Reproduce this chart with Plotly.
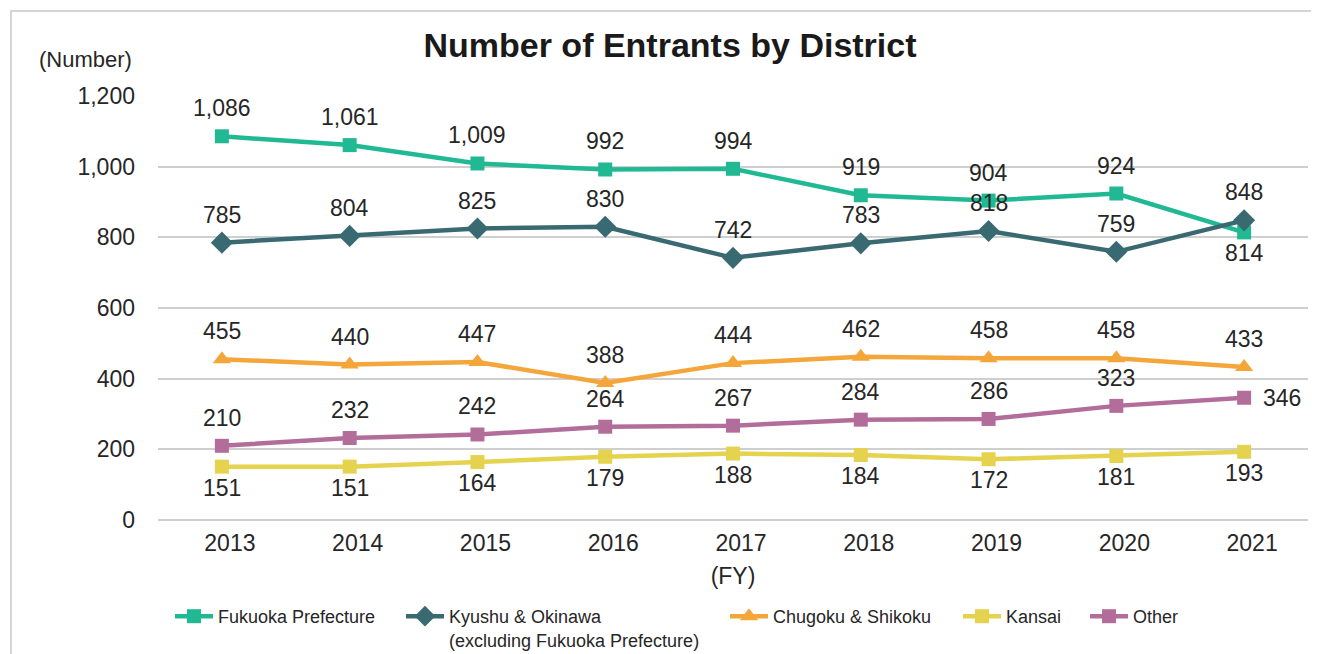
import plotly.graph_objects as go

years = ["2013", "2014", "2015", "2016", "2017", "2018", "2019", "2020", "2021"]

fukuoka = [1086, 1061, 1009, 992, 994, 919, 904, 924, 814]
kyushu = [785, 804, 825, 830, 742, 783, 818, 759, 848]
chugoku = [455, 440, 447, 388, 444, 462, 458, 458, 433]
kansai = [151, 151, 164, 179, 188, 184, 172, 181, 193]
other = [210, 232, 242, 264, 267, 284, 286, 323, 346]

FONT = "Liberation Sans, Arial, sans-serif"
TXT = "#262626"
W, H = 1311, 646  # page adds an 8px body margin

series = [
    ("Fukuoka Prefecture", fukuoka, "#20B994", "square", 14,
     ["up"] * 8 + ["down"], "legend"),
    ("Kyushu & Okinawa<br>(excluding Fukuoka Prefecture)", kyushu, "#3A6A71", "diamond", 17,
     ["up"] * 9, "legend2"),
    ("Chugoku & Shikoku", chugoku, "#F5A63B", "triangle-up", 16,
     ["up"] * 9, "legend3"),
    ("Kansai", kansai, "#E5D24F", "square", 14,
     ["down"] * 9, "legend4"),
    ("Other", other, "#B36D9B", "square", 14,
     ["up"] * 8 + ["right"], "legend5"),
]

fig = go.Figure()
annotations = []
for name, vals, color, sym, size, pos, leg in series:
    fig.add_scatter(
        x=years, y=vals, name=name, mode="lines+markers",
        line=dict(color=color, width=4.5),
        marker=dict(symbol=sym, size=size, color=color),
        legend=leg,
    )
    for i, (v, p) in enumerate(zip(vals, pos)):
        shift = {"up": (0, 28), "down": (0, -21), "right": (38, 0)}[p]
        # category axis: annotation x given as category index
        annotations.append(dict(
            x=i, y=v, text=f"{v:,}", showarrow=False,
            xshift=shift[0], yshift=shift[1],
            font=dict(family=FONT, size=23, color=TXT),
        ))

annotations.append(dict(
    x=(134 - 158) / 1150, y=(520 - 60) / 424, xref="paper", yref="paper",
    text="(Number)", showarrow=False, xanchor="right", yanchor="middle",
    font=dict(family=FONT, size=22, color=TXT),
))

# left edge of each legend (figure px)
leg_x = [162, 393, 717, 950, 1077]
legends = {}
for i, lx in enumerate(leg_x):
    key = "legend" if i == 0 else f"legend{i + 1}"
    legends[key] = dict(
        x=lx / W, y=1 - 590 / H, xref="container", yref="container",
        xanchor="left", yanchor="top", orientation="h", valign="top",
        font=dict(family=FONT, size=18, color=TXT), bgcolor="rgba(0,0,0,0)",
        itemwidth=38,
    )

fig.update_layout(
    width=W, height=H,
    margin=dict(l=150, r=11, t=88, b=134),
    paper_bgcolor="white", plot_bgcolor="white",
    title=dict(text="<b>Number of Entrants by District</b>", x=662 / W, xanchor="center",
               y=1 - 37 / H, yanchor="middle", xref="container", yref="container",
               font=dict(family=FONT, size=34, color="#1a1a1a")),
    font=dict(family=FONT, color=TXT),
    annotations=annotations,
    showlegend=True,
    **legends,
    shapes=[dict(type="rect", xref="paper", yref="paper",
                 x0=(11 - 158) / 1150, x1=(1340 - 158) / 1150,
                 y0=(520 - 670) / 424, y1=(520 - 11) / 424,
                 line=dict(color="#C8C8C8", width=1.5), fillcolor="rgba(0,0,0,0)",
                 layer="below")],
)
fig.update_xaxes(
    type="category", range=[-0.5, 8.5], showgrid=False, showline=False, ticks="",
    tickfont=dict(family=FONT, size=23, color=TXT), ticklabelstandoff=7, ticklabelshift=8,
    title=dict(text="(FY)", font=dict(family=FONT, size=23, color=TXT), standoff=12),
)
fig.update_yaxes(
    range=[0, 1200], dtick=200, tickformat=",d", showgrid=True, gridcolor="#CFCFCF",
    gridwidth=1.5, zeroline=True, zerolinecolor="#CFCFCF", zerolinewidth=1.5,
    showline=False, ticks="", tickfont=dict(family=FONT, size=23, color=TXT),
    ticklabelstandoff=22,
)

fig.write_html("out.html")
